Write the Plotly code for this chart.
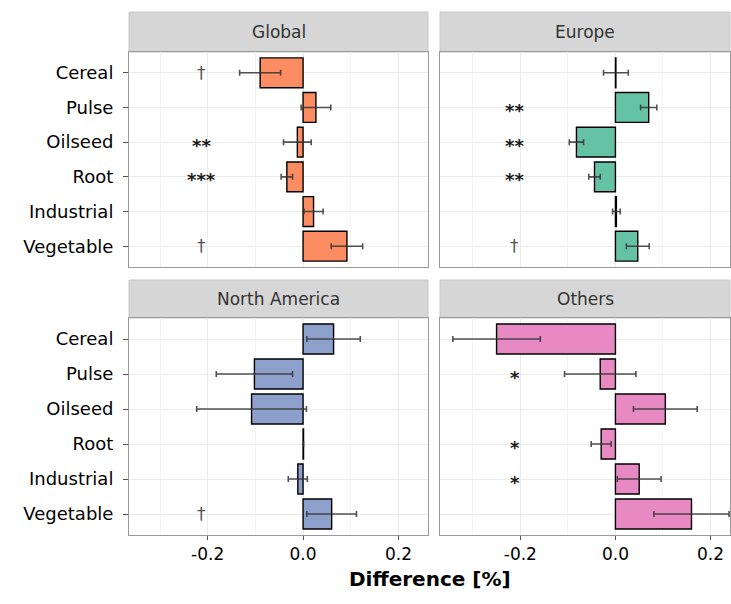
import plotly.graph_objects as go

W, H = 731, 604

categories = ["Cereal", "Pulse", "Oilseed", "Root", "Industrial", "Vegetable"]
regions = ["Global", "Europe", "North America", "Others"]
colors = ["#fc8d62", "#66c2a5", "#8da0cb", "#e78ac3"]

global_vals = [-0.090, 0.027, -0.012, -0.034, 0.022, 0.092]
global_errs = [0.043, 0.031, 0.029, 0.012, 0.020, 0.033]
europe_vals = [0.001, 0.070, -0.082, -0.044, 0.002, 0.047]
europe_errs = [0.026, 0.017, 0.015, 0.012, 0.008, 0.024]
namerica_vals = [0.064, -0.102, -0.108, 0.001, -0.011, 0.060]
namerica_errs = [0.056, 0.080, 0.115, 0.0, 0.020, 0.052]
others_vals = [-0.250, -0.032, 0.105, -0.030, 0.050, 0.160]
others_errs = [0.092, 0.075, 0.067, 0.021, 0.046, 0.079]

global_sig = ["†", "", "**", "***", "", "†"]
europe_sig = ["", "**", "**", "**", "", "†"]
namerica_sig = ["", "", "", "", "", "†"]
others_sig = ["", "*", "", "*", "*", ""]

x_ticks = [-0.2, 0.0, 0.2]
x_tick_labels = ["-0.2", "0.0", "0.2"]
sig_x = -0.212

vals = [global_vals, europe_vals, namerica_vals, others_vals]
errs = [global_errs, europe_errs, namerica_errs, others_errs]
sigs = [global_sig, europe_sig, namerica_sig, others_sig]

# pixel layout
px_x = [(129, 428), (440, 730), (129, 428), (440, 730)]
px_y = [(52, 267), (52, 267), (318, 535), (318, 535)]
px_strip = [(12, 52), (12, 52), (280, 318), (280, 318)]
x_ranges = [(-0.365, 0.262), (-0.369, 0.241), (-0.365, 0.262), (-0.369, 0.241)]

FONT = "DejaVu Sans"

fig = go.Figure()
shapes = []
annotations = []

for i in range(4):
    sfx = "" if i == 0 else str(i + 1)
    xa, ya = "x" + sfx, "y" + sfx
    fig.add_trace(go.Bar(
        x=vals[i], y=categories, orientation="h",
        marker=dict(color=colors[i], line=dict(color="black", width=1.4)),
        width=0.86,
        error_x=dict(type="data", array=errs[i], color="rgba(50,50,50,0.85)",
                     thickness=1.6, width=3),
        xaxis=xa, yaxis=ya, showlegend=False, hoverinfo="skip",
    ))
    for c, s in zip(categories, sigs[i]):
        if not s:
            continue
        star = "*" in s
        annotations.append(dict(
            text=("<b>%s</b>" % s) if star else s,
            xref=xa, yref=ya, x=sig_x, y=c, showarrow=False,
            xanchor="center", yanchor="middle", yshift=-3 if star else 0,
            font=dict(family=FONT, size=18 if star else 17,
                      color="#1a1a1a" if star else "#555555"),
        ))
    x0, x1 = px_x[i]
    y0, y1 = px_y[i]
    left = i in (0, 2)
    bottom = i in (2, 3)
    fig.layout["xaxis" + sfx] = dict(
        domain=[x0 / W, x1 / W], anchor=ya, range=list(x_ranges[i]),
        tickvals=x_ticks, ticktext=x_tick_labels,
        showticklabels=bottom, ticks="outside" if bottom else "",
        ticklen=4, tickcolor="#555555", tickwidth=1,
        tickfont=dict(family=FONT, size=17, color="black"),
        showgrid=True, gridcolor="#ebebeb", gridwidth=1.2,
        minor=dict(tickvals=[-0.3, -0.1, 0.1], showgrid=True, gridcolor="#f4f4f4", gridwidth=0.7),
        zeroline=False, showline=True, mirror=True, linecolor="#9a9a9a", linewidth=1,
        fixedrange=True,
    )
    fig.layout["yaxis" + sfx] = dict(
        domain=[1 - y1 / H, 1 - y0 / H], anchor=xa, type="category",
        categoryorder="array", categoryarray=categories,
        range=[5.6, -0.6],
        showticklabels=left, ticks="outside" if left else "",
        ticklen=5, tickcolor="#555555", tickwidth=1, ticklabelstandoff=6,
        tickfont=dict(family=FONT, size=18, color="black"),
        showgrid=True, gridcolor="#ebebeb", gridwidth=1.2,
        zeroline=False, showline=True, mirror=True, linecolor="#9a9a9a", linewidth=1,
        fixedrange=True,
    )
    s0, s1 = px_strip[i]
    shapes.append(dict(type="rect", xref="paper", yref="paper",
                       x0=x0 / W, x1=x1 / W, y0=1 - s1 / H, y1=1 - s0 / H,
                       fillcolor="#d6d6d6", line=dict(color="#c8c8c8", width=1), layer="below"))
    annotations.append(dict(text=regions[i], xref="paper", yref="paper",
                            x=(x0 + x1) / 2 / W, y=1 - (s0 + s1) / 2 / H,
                            xanchor="center", yanchor="middle", showarrow=False,
                            font=dict(family=FONT, size=17, color="#333333")))

annotations.append(dict(text="<b>Difference [%]</b>", xref="paper", yref="paper",
                        x=(129 + 730) / 2 / W, y=1 - 579 / H,
                        xanchor="center", yanchor="middle", showarrow=False,
                        font=dict(family=FONT, size=20, color="black")))

fig.update_layout(
    width=W, height=H, margin=dict(l=0, r=0, t=0, b=0),
    paper_bgcolor="white", plot_bgcolor="white",
    shapes=shapes, annotations=annotations, bargap=0.1,
)

fig.write_html("out.html")
